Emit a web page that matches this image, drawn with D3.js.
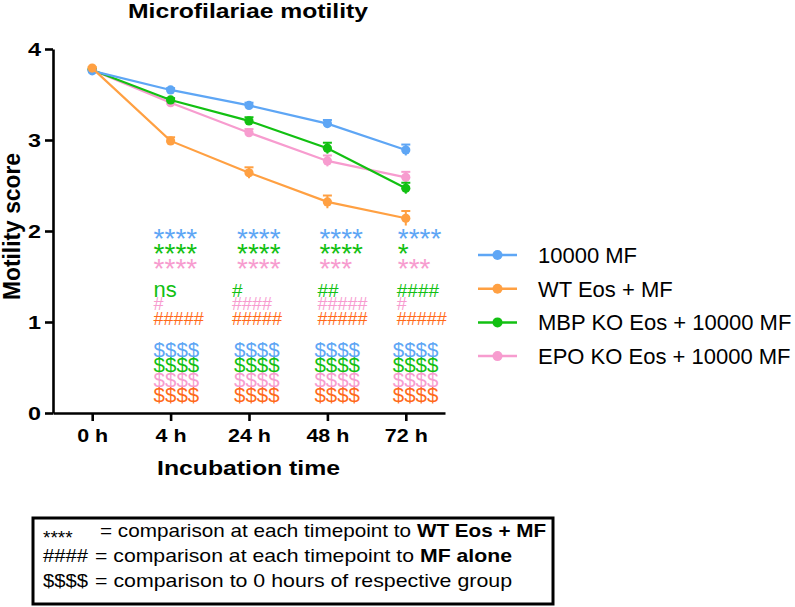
<!DOCTYPE html>
<html lang="en">
<meta charset="utf-8">
<head>
    <script src="https://d3js.org/d3.v7.min.js"></script>
</head>
<body style="margin:0;background:#fff">
<style>
    text { font-family: "Liberation Sans", Arial, sans-serif; }
</style>

<svg width="795" height="607"></svg>
</body>

<script>
// data
var times = ["0 h", "4 h", "24 h", "48 h", "72 h"];

var seriesNames = ["10000 MF", "WT Eos + MF", "MBP KO Eos + 10000 MF", "EPO KO Eos + 10000 MF"];
var mfAlone   = [3.76, 3.55, 3.38, 3.18, 2.89];
var wtEos     = [3.79, 2.99, 2.64, 2.32, 2.14];
var mbpKo     = [3.77, 3.44, 3.21, 2.91, 2.47];
var epoKo     = [3.77, 3.41, 3.08, 2.77, 2.59];
var mfAloneErr = [0.01, 0.02, 0.03, 0.04, 0.06];
var wtEosErr   = [0.01, 0.04, 0.06, 0.07, 0.08];
var mbpKoErr   = [0.01, 0.02, 0.04, 0.06, 0.06];
var epoKoErr   = [0.01, 0.02, 0.04, 0.06, 0.06];
var yTicks = [0, 1, 2, 3, 4];

// significance marks for 4 h .. 72 h
var annotTimes  = ["4 h", "24 h", "48 h", "72 h"];
var starsBlue   = ["****", "****", "****", "****"];
var starsGreen  = ["****", "****", "****", "*"];
var starsPink   = ["****", "****", "***", "***"];
var hashGreen   = ["ns", "#", "##", "####"];
var hashPink    = ["#", "####", "#####", "#"];
var hashOrange  = ["#####", "#####", "#####", "#####"];
var dollarRow   = ["$$$$", "$$$$", "$$$$", "$$$$"];

var colors = ["#5ea6f5", "#ffa042", "#12c012", "#f79ccf"];
var darkOrange = "#ff6a1a";

var svg = d3.select("svg");

var x = d3.scalePoint().domain(times).range([53, 445]).padding(0.5);
var y = d3.scaleLinear().domain([0, 4]).range([413, 49]);

// title
svg.append("text")
    .attr("x", 128).attr("y", 18)
    .attr("font-size", "20px").attr("font-weight", "bold")
    .attr("textLength", 240).attr("lengthAdjust", "spacingAndGlyphs")
    .text("Microfilariae motility");

// axes
var gx = svg.append("g")
    .attr("transform", "translate(0," + y(0) + ")")
    .call(d3.axisBottom(x).tickSize(8).tickSizeOuter(0).tickPadding(8));
var gy = svg.append("g")
    .attr("transform", "translate(" + 53 + ",0)")
    .call(d3.axisLeft(y).tickValues(yTicks).tickFormat(d3.format("d"))
        .tickSize(8).tickSizeOuter(0).tickPadding(4));

[gx, gy].forEach(function(g) {
    g.select(".domain").attr("stroke", "#000").attr("stroke-width", 2.6);
    g.selectAll(".tick line").attr("stroke", "#000").attr("stroke-width", 2.6);
    g.selectAll("text").attr("fill", "#000").attr("font-weight", "bold")
        .attr("font-family", "Liberation Sans, Arial, sans-serif");
});
gx.selectAll("text").attr("font-size", "18.5px")
    .attr("textLength", function(d) { return d.length > 3 ? 43 : 31; })
    .attr("lengthAdjust", "spacingAndGlyphs");
gy.selectAll("text").attr("font-size", "19px")
    .attr("textLength", 13).attr("lengthAdjust", "spacingAndGlyphs");

// axis titles
svg.append("text")
    .attr("x", 157).attr("y", 475)
    .attr("font-size", "21px").attr("font-weight", "bold")
    .attr("textLength", 183).attr("lengthAdjust", "spacingAndGlyphs")
    .text("Incubation time");
svg.append("text")
    .attr("transform", "translate(20,300) rotate(-90)")
    .attr("font-size", "24px").attr("font-weight", "bold")
    .attr("textLength", 147).attr("lengthAdjust", "spacingAndGlyphs")
    .text("Motility score");

// series
var series = [
    { name: seriesNames[3], values: epoKo, err: epoKoErr, color: colors[3] },
    { name: seriesNames[2], values: mbpKo, err: mbpKoErr, color: colors[2] },
    { name: seriesNames[0], values: mfAlone, err: mfAloneErr, color: colors[0] },
    { name: seriesNames[1], values: wtEos, err: wtEosErr, color: colors[1] }
];

var line = d3.line()
    .x(function(d, i) { return x(times[i]); })
    .y(function(d) { return y(d); });

series.forEach(function(s) {
    var g = svg.append("g");
    g.append("path")
        .attr("d", line(s.values))
        .attr("fill", "none")
        .attr("stroke", s.color)
        .attr("stroke-width", 2.2);
    var pts = g.selectAll(".pt").data(s.values).enter().append("g");
    pts.append("line")
        .attr("x1", function(d, i) { return x(times[i]); })
        .attr("x2", function(d, i) { return x(times[i]); })
        .attr("y1", function(d, i) { return y(d - s.err[i]); })
        .attr("y2", function(d, i) { return y(d + s.err[i]); })
        .attr("stroke", s.color).attr("stroke-width", 2);
    pts.append("line")
        .attr("x1", function(d, i) { return x(times[i]) - 4.5; })
        .attr("x2", function(d, i) { return x(times[i]) + 4.5; })
        .attr("y1", function(d, i) { return y(d + s.err[i]); })
        .attr("y2", function(d, i) { return y(d + s.err[i]); })
        .attr("stroke", s.color).attr("stroke-width", 2);
    pts.append("circle")
        .attr("cx", function(d, i) { return x(times[i]); })
        .attr("cy", function(d) { return y(d); })
        .attr("r", 4.6)
        .attr("fill", s.color);
});

// significance marks
var starDx = [-17, -12, -8, -8];
var hashDx = [-17, -17, -10, -9];
var dolDx  = [-17, -15, -13, -13];

var rows = [
    { txt: starsBlue,  color: colors[0], y: 248, size: 28, dx: starDx },
    { txt: starsGreen, color: colors[2], y: 263, size: 28, dx: starDx },
    { txt: starsPink,  color: colors[3], y: 278, size: 28, dx: starDx },
    { txt: hashGreen,  color: colors[2], y: 296.5, size: 19, dx: hashDx },
    { txt: hashPink,   color: colors[3], y: 310, size: 18, dx: hashDx },
    { txt: hashOrange, color: darkOrange, y: 325, size: 18, dx: hashDx },
    { txt: dollarRow,  color: colors[0], y: 356.5, size: 20.5, dx: dolDx },
    { txt: dollarRow,  color: colors[2], y: 371.5, size: 20.5, dx: dolDx },
    { txt: dollarRow,  color: colors[3], y: 386.5, size: 20.5, dx: dolDx },
    { txt: dollarRow,  color: darkOrange, y: 401.5, size: 20.5, dx: dolDx }
];

rows.forEach(function(r) {
    svg.append("g").selectAll("text")
        .data(r.txt).enter().append("text")
        .attr("x", function(d, i) { return x(annotTimes[i]) + r.dx[i]; })
        .attr("y", r.y)
        .attr("font-size", function(d) { return (d == "ns" ? 22 : r.size) + "px"; })
        .attr("fill", r.color)
        .text(function(d) { return d; });
});

// legend
var legendOrder = [0, 1, 2, 3];
var leg = svg.append("g").selectAll("g")
    .data(legendOrder).enter().append("g")
    .attr("transform", function(d, i) { return "translate(478," + (255 + i * 33.7) + ")"; });
leg.append("line")
    .attr("x1", 0).attr("x2", 39)
    .attr("stroke", function(d) { return colors[d]; })
    .attr("stroke-width", 2.5);
leg.append("circle")
    .attr("cx", 19.5).attr("r", 5)
    .attr("fill", function(d) { return colors[d]; });
leg.append("text")
    .attr("x", 60).attr("y", 8)
    .attr("font-size", "22px")
    .text(function(d) { return seriesNames[d]; });

// footnote box
var notes = [
    { sym: "****", symLen: null, symY: 544, plain: "= comparison at each timepoint to", bold: "WT Eos + MF",
      px: 100, plen: 311, bx: 417, blen: 129 },
    { sym: "####", symLen: 45, symY: 562, plain: "= comparison at each timepoint to", bold: "MF alone",
      px: 95, plen: 319, bx: 420, blen: 92 },
    { sym: "$$$$", symLen: 45, symY: 587, plain: "= comparison to 0 hours of respective group", bold: "",
      px: 95, plen: 417, bx: 0, blen: 0 }
];
var baseY = [537, 562, 587];

svg.append("rect")
    .attr("x", 33).attr("y", 518)
    .attr("width", 520).attr("height", 86)
    .attr("fill", "none").attr("stroke", "#000").attr("stroke-width", 3);

notes.forEach(function(n, i) {
    var s = svg.append("text")
        .attr("x", 43).attr("y", n.symY)
        .attr("font-size", "19px")
        .text(n.sym);
    if (n.symLen) s.attr("textLength", n.symLen).attr("lengthAdjust", "spacingAndGlyphs");
    svg.append("text")
        .attr("x", n.px).attr("y", baseY[i])
        .attr("font-size", "19px")
        .attr("textLength", n.plen).attr("lengthAdjust", "spacingAndGlyphs")
        .text(n.plain);
    if (n.bold) {
        svg.append("text")
            .attr("x", n.bx).attr("y", baseY[i])
            .attr("font-size", "19px").attr("font-weight", "bold")
            .attr("textLength", n.blen).attr("lengthAdjust", "spacingAndGlyphs")
            .text(n.bold);
    }
});
</script>
